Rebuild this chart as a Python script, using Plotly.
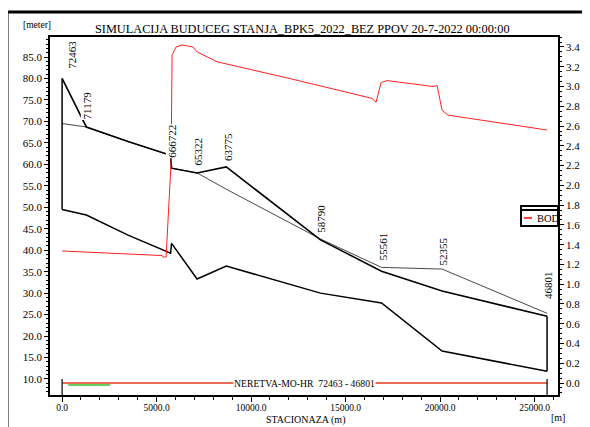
import plotly.graph_objects as go

# ---------------- data ----------------
chainage = [0, 1284, 3490, 5741, 5791, 7141, 8688, 13673, 16902, 20108, 25662]
bank_a = [80.0, 68.7, 65.3, 62.1, 59.1, 58.0, 59.4, 42.4, 35.1, 30.5, 24.6]
bank_b = [69.5, 68.7, 65.3, 62.1, 59.1, 58.0, 54.2, 42.6, 36.0, 35.6, 25.3]
bed = [49.5, 48.2, 43.5, 39.3, 41.6, 33.3, 36.3, 30.0, 27.7, 16.5, 11.8]

bod_x = [0, 5132, 5291, 5344, 5503, 5767, 5820, 6032, 6349, 6931, 7143, 8201,
         8889, 12063, 16402, 16614, 16878, 17196, 19630, 19841, 20106, 20423, 25662]
bod_y = [1.336, 1.285, 1.29, 1.275, 1.275, 2.23, 3.32, 3.40, 3.42, 3.40, 3.35, 3.25,
         3.22, 3.08, 2.88, 2.84, 3.04, 3.06, 3.00, 3.01, 2.76, 2.71, 2.56]

net_x = [0, 25662]
net_y = [0.0, 0.0]
green_x = [320, 2540]
green_y = [-0.02, -0.02]

label_text = ["72463", "71179", "666722", "65322", "63775", "58790", "55561", "52355", "46801"]
label_x = [470, 1284, 5791, 7141, 8688, 13673, 16902, 20108, 25662]
label_y = [85.5, 73.8, 65.4, 63.0, 64.1, 47.2, 40.8, 39.7, 31.9]

title_text = "SIMULACIJA BUDUCEG STANJA_BPK5_2022_BEZ PPOV 20-7-2022 00:00:00"

# ---------------- figure ----------------
OFF = 8  # page body margin offset
W, H = 590 - OFF, 427 - OFF
L, R, T, B = 50 - OFF, 558 - OFF, 37 - OFF, 395 - OFF

def px(x):  # target-image pixel x -> paper
    return (x - OFF - L) / (R - L)

def py(y):  # target-image pixel y -> paper
    return (B - (y - OFF)) / (B - T)

FONT = "'Liberation Serif', 'Times New Roman', Times, serif"
fig = go.Figure()

fig.add_trace(go.Scatter(x=chainage, y=bank_b, mode="lines",
                         line=dict(color="#333333", width=0.9), hoverinfo="skip"))
fig.add_trace(go.Scatter(x=chainage, y=bank_a, mode="lines",
                         line=dict(color="black", width=1.6), hoverinfo="skip"))
fig.add_trace(go.Scatter(x=chainage, y=bed, mode="lines",
                         line=dict(color="black", width=1.5), hoverinfo="skip"))
# end cross-section verticals
fig.add_trace(go.Scatter(x=[chainage[0], chainage[0]], y=[bed[0], bank_a[0]], mode="lines",
                         line=dict(color="black", width=1.5), hoverinfo="skip"))
fig.add_trace(go.Scatter(x=[chainage[-1], chainage[-1]], y=[bed[-1], bank_a[-1]], mode="lines",
                         line=dict(color="black", width=1.5), hoverinfo="skip"))

fig.add_trace(go.Scatter(x=bod_x, y=bod_y, mode="lines", yaxis="y2", name="BOD",
                         line=dict(color="#ff2020", width=1), hoverinfo="skip"))
fig.add_trace(go.Scatter(x=green_x, y=green_y, mode="lines", yaxis="y2",
                         line=dict(color="#30c030", width=1.5), hoverinfo="skip"))
fig.add_trace(go.Scatter(x=net_x, y=net_y, mode="lines", yaxis="y2",
                         line=dict(color="#e03c20", width=1.6), hoverinfo="skip"))

annotations = []
for t, x, y in zip(label_text, label_x, label_y):
    annotations.append(dict(x=x, y=y, xref="x", yref="y", text=t, showarrow=False,
                            textangle=-90, xshift=1, bgcolor="white", borderpad=0,
                            font=dict(family=FONT, size=11, color="black")))

annotations += [
    dict(x=px(302), y=py(28.5), xref="paper", yref="paper", text=title_text, showarrow=False,
         xanchor="center", yanchor="middle", font=dict(family=FONT, size=12.3, color="black")),
    dict(x=px(37), y=py(25), xref="paper", yref="paper", text="[meter]", showarrow=False,
         xanchor="center", yanchor="middle", font=dict(family=FONT, size=9.5, color="black")),
    dict(x=px(305), y=py(419.5), xref="paper", yref="paper", text="STACIONAZA (m)", showarrow=False,
         xanchor="center", yanchor="middle", font=dict(family=FONT, size=10, color="black")),
    dict(x=px(558), y=py(418), xref="paper", yref="paper", text="[m]", showarrow=False,
         xanchor="center", yanchor="middle", font=dict(family=FONT, size=10, color="black")),
    dict(x=px(304), y=py(383), xref="paper", yref="paper", text="NERETVA-MO-HR  72463 - 46801",
         showarrow=False, xanchor="center", yanchor="middle", bgcolor="white", borderpad=0,
         font=dict(family=FONT, size=9.7, color="black")),
    dict(x=px(535), y=py(218), xref="paper", yref="paper", text="BOD", showarrow=False,
         xanchor="left", yanchor="middle", font=dict(family=FONT, size=10.5, color="black")),
]

shapes = [
    # outer frame
    dict(type="rect", xref="paper", yref="paper", x0=px(7), x1=px(586), y0=py(450), y1=py(12),
         line=dict(color="black", width=3)),
    # legend box
    dict(type="rect", xref="paper", yref="paper", x0=px(521), x1=px(558), y0=py(226), y1=py(206),
         line=dict(color="black", width=2), fillcolor="white", layer="above"),
    dict(type="line", xref="paper", yref="paper", x0=px(521), x1=px(558), y0=py(210), y1=py(210),
         line=dict(color="black", width=2)),
    dict(type="line", xref="paper", yref="paper", x0=px(524), x1=px(532), y0=py(218), y1=py(218),
         line=dict(color="red", width=1.5)),
    # bottom network end marks
    dict(type="line", xref="x", yref="paper", x0=chainage[0], x1=chainage[0], y0=0, y1=py(379),
         line=dict(color="black", width=1.2)),
    dict(type="line", xref="x", yref="paper", x0=chainage[-1], x1=chainage[-1], y0=0, y1=py(379),
         line=dict(color="black", width=1.2)),
]

tickfont = dict(family=FONT, size=11, color="black")
fig.update_layout(
    width=W, height=H,
    margin=dict(l=L, r=W - R, t=T, b=H - B, autoexpand=False),
    paper_bgcolor="white", plot_bgcolor="white",
    showlegend=False,
    annotations=annotations, shapes=shapes,
    xaxis=dict(range=[-640, 26240], showgrid=False, zeroline=False, showline=True,
               automargin=False,
               linecolor="black", linewidth=1.5, mirror=True, ticks="outside", ticklen=5,
               tickcolor="black", dtick=5000, tick0=0, tickformat=".1f",
               ticklabelstandoff=-2,
               tickfont=dict(family=FONT, size=9.5, color="black"),
               minor=dict(dtick=1000, ticks="outside", ticklen=3, tickcolor="black")),
    yaxis=dict(range=[6.27, 89.66], showgrid=False, zeroline=False, showline=True,
               automargin=False,
               linecolor="black", linewidth=1.5, ticks="outside", ticklen=4, tickcolor="black",
               dtick=5, tick0=0, tickformat=".1f", tickfont=tickfont,
               minor=dict(dtick=1, ticks="outside", ticklen=2, tickcolor="black")),
    yaxis2=dict(range=[-0.121, 3.501], overlaying="y", side="right", showgrid=False,
                automargin=False,
                zeroline=False, showline=True, linecolor="black", linewidth=1.5,
                ticks="outside", ticklen=4, tickcolor="black", dtick=0.2, tick0=0,
                tickformat=".1f", tickfont=tickfont,
                minor=dict(dtick=0.05, ticks="outside", ticklen=2, tickcolor="black")),
)

fig.write_html("out.html")
